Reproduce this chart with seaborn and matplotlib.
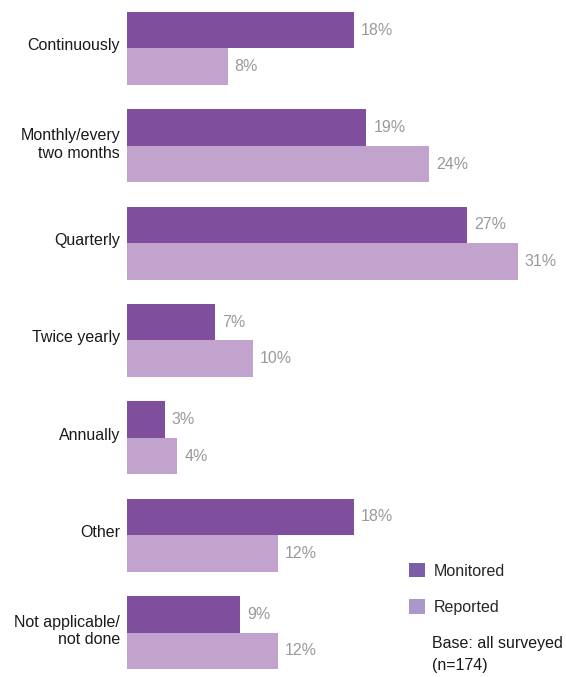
import matplotlib
matplotlib.use("Agg")
import matplotlib.pyplot as plt
from matplotlib.patches import Patch
from matplotlib.transforms import ScaledTranslation
import seaborn as sns
import pandas as pd

categories = ["Continuously", "Monthly/every\ntwo months", "Quarterly", "Twice yearly",
              "Annually", "Other", "Not applicable/\nnot done"]
monitored = [18, 19, 27, 7, 3, 18, 9]
reported = [8, 24, 31, 10, 4, 12, 12]
series = ["Monitored", "Reported"]
note = "Base: all surveyed\n(n=174)"

bar_colors = ["#7f4f9e", "#c2a3cd"]
legend_colors = ["#7a5fa8", "#a999cb"]
label_grey = "#9a9a9a"

sns.set_theme(style="white")
plt.rcParams["font.family"] = ["Liberation Sans", "DejaVu Sans"]

df = pd.DataFrame({
    "category": categories * 2,
    "value": monitored + reported,
    "series": [series[0]] * len(categories) + [series[1]] * len(categories),
})

fig = plt.figure(figsize=(5.66, 6.77), dpi=100)
ax = fig.add_axes([127 / 566, 0, 1 - 127 / 566, 1])

sns.barplot(data=df, x="value", y="category", hue="series", orient="h",
            palette=bar_colors, width=0.75, saturation=1, legend=False,
            linewidth=0, ax=ax)

for cont in ax.containers:
    ax.bar_label(cont, labels=[f"{v:.0f}%" for v in cont.datavalues],
                 padding=5, color=label_grey, fontsize=11.5)

ax.set_xlim(0, 439 / 12.6)
ax.set_ylim(6.457, -0.498)
ax.set_xlabel("")
ax.set_ylabel("")
ax.set_xticks([])
ax.tick_params(axis="y", length=0, pad=5, labelsize=11.5, labelcolor="#1a1a1a")
lift = ScaledTranslation(0, 4 / 100, fig.dpi_scale_trans)
for lbl in ax.get_yticklabels():
    lbl.set_transform(lbl.get_transform() + lift)
for s in ax.spines.values():
    s.set_visible(False)

handles = [Patch(facecolor=c, edgecolor="none") for c in legend_colors]
fig.legend(handles, series, loc="upper left", bbox_to_anchor=(409 / 566, 1 - 563 / 677),
           frameon=False, fontsize=11.5, handlelength=1.0, handleheight=1.0,
           handletextpad=0.55, labelspacing=1.3, borderpad=0, borderaxespad=0)
fig.text(432 / 566, 1 - 636 / 677, note, fontsize=11.5, color="#1a1a1a",
         va="top", ha="left", linespacing=1.55)

fig.savefig("out.png", dpi=100)
